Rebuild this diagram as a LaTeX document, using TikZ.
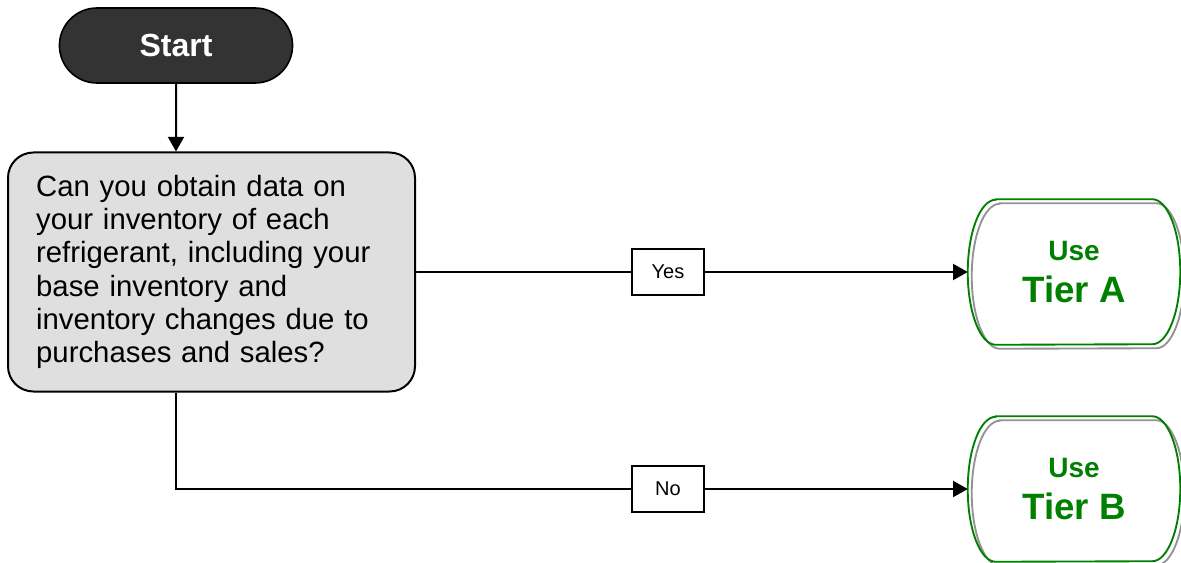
\documentclass[tikz,border=0pt]{standalone}
\usepackage{fontspec}
\setmainfont{Liberation Sans}
\usetikzlibrary{arrows.meta,shapes.misc}
\definecolor{tiergreen}{RGB}{0,128,0}
\definecolor{startgray}{RGB}{51,51,51}
% outline of a tier box: straight top and bottom, half-ellipse ends
\newcommand{\tierpath}[1]{([xshift=21pt]#1.north west) -- ([xshift=-21pt]#1.north east)
  arc[start angle=90, end angle=-90, x radius=21pt, y radius=54.375pt]
  -- ([xshift=21pt]#1.south west)
  arc[start angle=270, end angle=90, x radius=21pt, y radius=54.375pt] -- cycle}

\begin{document}
\begin{tikzpicture}[x=0.75pt,y=-0.75pt]
  \tikzstyle{line} = [line width=1.5pt]
  \tikzstyle{flow} = [line, -{Triangle[length=11pt,width=12pt]}]
  \tikzstyle{terminal} = [draw, line width=1.2pt, fill=startgray, text=white, rounded rectangle, minimum width=181.5pt, minimum height=56.25pt, font=\fontsize{24}{24}\selectfont\bfseries]
  \tikzstyle{question} = [draw, line width=1.5pt, fill=gray!25, rounded corners=19pt, minimum width=305.25pt, minimum height=179.25pt, text width=263pt, inner xsep=21pt, align=left, font=\fontsize{22}{25}\selectfont]
  \tikzstyle{answer} = [draw, line width=1.5pt, fill=white, minimum width=54pt, minimum height=34.5pt, font=\fontsize{15}{15}\selectfont]
  \tikzstyle{tier} = [minimum width=159pt, minimum height=108.75pt, text=tiergreen, align=center, font=\fontsize{21}{32}\selectfont\bfseries]
  \tikzstyle{tierline} = [line width=1.4pt, draw=tiergreen]
  \tikzstyle{tiershadow} = [line width=1.4pt, draw=gray!85, transform canvas={xshift=3pt,yshift=-3pt}]

  \useasboundingbox (0,0) rectangle (1181,563);

  \node[terminal] (start) at (176,45.5) {Start};
  \node[question] (question) at (211.5,272) {Can you obtain data on\\your inventory of each\\refrigerant, including your\\base inventory and\\inventory changes due to\\purchases and sales?};
  \node[answer] (yes) at (668,272) {Yes};
  \node[answer] (no) at (668,489) {No};
  \node[tier] (tierA) at (1074,272) {Use\\{\fontsize{27.5}{32}\selectfont Tier A}};
  \node[tier] (tierB) at (1074,489) {Use\\{\fontsize{27.5}{32}\selectfont Tier B}};

  \foreach \t in {tierA,tierB} {
    \draw[tiershadow] \tierpath{\t};
    \draw[tierline] \tierpath{\t};
  }

  \draw[flow] (start) -- (start |- question.north);
  \draw[line] (question) -- (yes);
  \draw[flow] (yes) -- (tierA);
  \draw[line] (start |- question.south) |- (no);
  \draw[flow] (no) -- (tierB);
\end{tikzpicture}
\end{document}
